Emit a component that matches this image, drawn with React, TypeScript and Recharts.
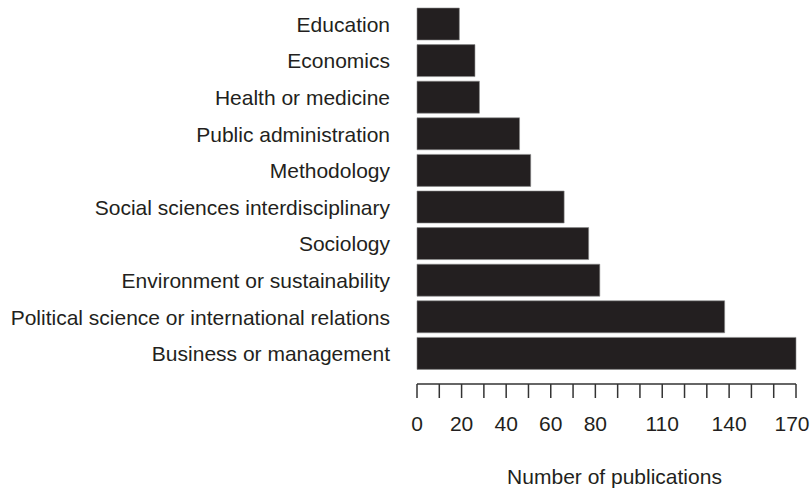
import { BarChart, Bar, XAxis, YAxis } from "recharts";

const FIELDS = [
  "Education",
  "Economics",
  "Health or medicine",
  "Public administration",
  "Methodology",
  "Social sciences interdisciplinary",
  "Sociology",
  "Environment or sustainability",
  "Political science or international relations",
  "Business or management",
];

const PUBLICATIONS = [19, 26, 28, 46, 51, 66, 77, 82, 138, 170];

const TICKS = [0, 10, 20, 30, 40, 50, 60, 70, 80, 90, 100, 110, 120, 130, 140, 150, 160, 170];
const TICK_LABELS = [0, 20, 40, 60, 80, 110, 140, 170];

const data = FIELDS.map((field, i) => ({ field, count: PUBLICATIONS[i] }));

const INK = "#231f20";
const FONT = "'Liberation Sans', Arial, Helvetica, sans-serif";

// only some of the minor ticks carry a number; the last one is nudged in so it fits
function CountTick(props: any) {
  const { x, y, payload } = props;
  if (!TICK_LABELS.includes(payload.value)) return <g />;
  const last = payload.value === TICK_LABELS[TICK_LABELS.length - 1];
  return (
    <text x={x + (last ? -4 : 0)} y={y + 31} textAnchor="middle" fontSize={21} fill={INK} fontFamily={FONT}>
      {payload.value}
    </text>
  );
}

export default function App() {
  return (
    <div style={{ position: "absolute", left: 0, top: 0, background: "#fff" }}>
      <BarChart
        width={811}
        height={489}
        data={data}
        layout="vertical"
        margin={{ top: 6, right: 15, bottom: 0, left: 0 }}
        barSize={32}
      >
        <XAxis
          type="number"
          domain={[0, 170]}
          ticks={TICKS}
          interval={0}
          height={105}
          axisLine={{ stroke: "#333", strokeWidth: 1.5 }}
          tickLine={{ stroke: "#333", strokeWidth: 1.5 }}
          tickSize={14}
          tick={<CountTick />}
          label={{
            value: "Number of publications",
            position: "insideBottom",
            offset: 5,
            dx: 8,
            fontSize: 21,
            fill: INK,
            fontFamily: FONT,
          }}
        />
        <YAxis
          type="category"
          dataKey="field"
          width={417}
          axisLine={false}
          tickLine={false}
          tickSize={0}
          tickMargin={27}
          padding={{ top: 0, bottom: 12 }}
          interval={0}
          tick={{ fontSize: 21, fill: INK, fontFamily: FONT }}
        />
        <Bar dataKey="count" fill={INK} stroke="#8a8a8a" strokeWidth={0.6} isAnimationActive={false} />
      </BarChart>
    </div>
  );
}
